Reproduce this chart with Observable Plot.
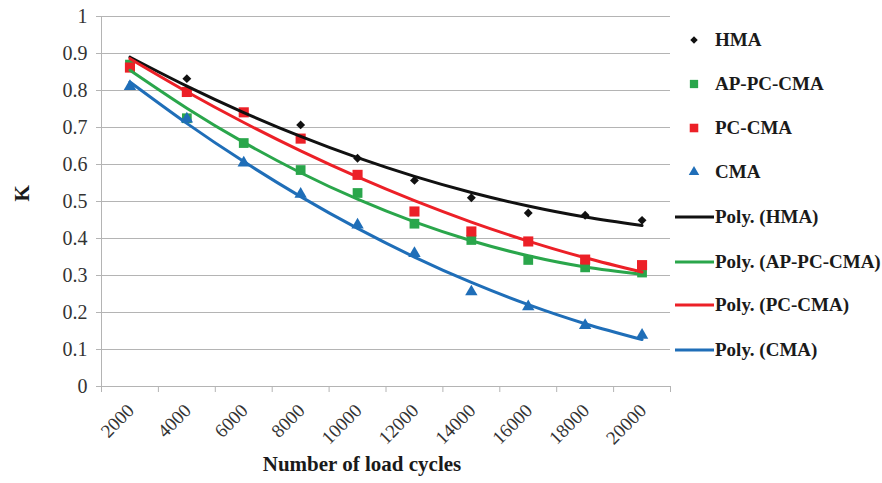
<!DOCTYPE html>
<html><head><meta charset="utf-8">
<script src="https://cdn.jsdelivr.net/npm/d3@7"></script>
<script src="https://cdn.jsdelivr.net/npm/@observablehq/plot@0.6"></script>
<style>
body{margin:0;background:#fff;font-family:"Liberation Serif",serif;}
#wrap{position:relative;width:882px;height:483px;overflow:hidden;}
.row{position:absolute;left:672px;height:22px;display:flex;align-items:center;font-weight:bold;font-size:19px;color:#1a1a1a;white-space:nowrap;}
.row svg{flex:none;}
</style></head><body><div id="wrap"></div>
<script>
const cycles = [2000, 4000, 6000, 8000, 10000, 12000, 14000, 16000, 18000, 20000];
const hma      = [0.865, 0.832, 0.741, 0.707, 0.617, 0.557, 0.510, 0.469, 0.463, 0.449];
const apPcCma  = [0.870, 0.725, 0.658, 0.585, 0.523, 0.440, 0.396, 0.342, 0.322, 0.308];
const pcCma    = [0.862, 0.796, 0.741, 0.670, 0.572, 0.473, 0.419, 0.392, 0.343, 0.328];
const cma      = [0.811, 0.723, 0.604, 0.520, 0.437, 0.360, 0.256, 0.216, 0.165, 0.139];
const seriesNames = ["HMA", "AP-PC-CMA", "PC-CMA", "CMA"];
const trendNames = ["Poly. (HMA)", "Poly. (AP-PC-CMA)", "Poly. (PC-CMA)", "Poly. (CMA)"];
const yTicks = [0, 0.1, 0.2, 0.3, 0.4, 0.5, 0.6, 0.7, 0.8, 0.9, 1];
const yTickLabels = ["0", "0.1", "0.2", "0.3", "0.4", "0.5", "0.6", "0.7", "0.8", "0.9", "1"];
const xTitle = "Number of load cycles";
const yTitle = "K";

const colors = ["#111111", "#2aa64b", "#ec2027", "#1f6eb8"];
const symbols = ["diamond2", "square", "square", "triangle"];
const sizes = [4.0, 5.5, 5.7, 4.6];
const values = [hma, apPcCma, pcCma, cma];

// quadratic least-squares fit (Excel "Poly." order-2 trendline)
function quadFit(xs, ys) {
  const n = xs.length;
  let s = [0,0,0,0,0], t = [0,0,0];
  for (let i = 0; i < n; i++) {
    const x = xs[i] / 1000, y = ys[i];
    for (let k = 0; k < 5; k++) s[k] += Math.pow(x, k);
    for (let k = 0; k < 3; k++) t[k] += y * Math.pow(x, k);
  }
  const A = [[s[0], s[1], s[2], t[0]], [s[1], s[2], s[3], t[1]], [s[2], s[3], s[4], t[2]]];
  for (let i = 0; i < 3; i++) {
    for (let j = i + 1; j < 3; j++) {
      const f = A[j][i] / A[i][i];
      for (let k = i; k < 4; k++) A[j][k] -= f * A[i][k];
    }
  }
  const c = [0,0,0];
  for (let i = 2; i >= 0; i--) {
    let v = A[i][3];
    for (let k = i + 1; k < 3; k++) v -= A[i][k] * c[k];
    c[i] = v / A[i][i];
  }
  return x => c[0] + c[1] * (x / 1000) + c[2] * (x / 1000) ** 2;
}

const points = [], trends = [];
values.forEach((vals, si) => {
  const f = quadFit(cycles, vals);
  cycles.forEach((c, i) => {
    points.push({series: seriesNames[si], si, x: c, y: vals[i]});
    trends.push({series: trendNames[si], si, x: c, y: f(c)});
  });
});

const step = cycles[1] - cycles[0];
const boundaries = [cycles[0] - step / 2, ...cycles.map(c => c + step / 2)];

const marks = [
  Plot.gridY(yTicks, {stroke: "#b4b4b4", strokeOpacity: 1, strokeWidth: 1}),
  Plot.ruleX([boundaries[0]], {stroke: "#b4b4b4"}),
  Plot.axisX(boundaries, {label: null, tickSize: 6, stroke: "#b4b4b4", tickFormat: () => ""}),
  Plot.tickY(yTicks, {y: d => d, stroke: "#b4b4b4", insetLeft: -5, insetRight: 0}),
  Plot.text(yTicks, {y: d => d, text: (d, i) => yTickLabels[i], frameAnchor: "left", dx: -14, textAnchor: "end", fontSize: 20, fill: "#333"}),
  Plot.text(cycles, {x: d => d, text: d => String(d), frameAnchor: "bottom", dx: 1, dy: 21, rotate: -45, textAnchor: "end", lineAnchor: "middle", fontSize: 19, fill: "#333"}),
];
values.forEach((vals, si) => {
  marks.push(Plot.dot(points.filter(d => d.si === si), {x: "x", y: "y", symbol: () => symbols[si], r: sizes[si], fill: colors[si], stroke: "none"}));
});
values.forEach((vals, si) => {
  marks.push(Plot.line(trends.filter(d => d.si === si), {x: "x", y: "y", stroke: colors[si], strokeWidth: 3, curve: "natural"}));
});
marks.push(Plot.text([yTitle], {frameAnchor: "left", dx: -79, rotate: -90, fontWeight: "bold", fontSize: 21, fill: "#1a1a1a"}));
marks.push(Plot.text([xTitle], {frameAnchor: "bottom", dx: -24, dy: 84, fontWeight: "bold", fontSize: 21, fill: "#1a1a1a"}));

const chart = Plot.plot({
  width: 882, height: 483,
  marginLeft: 101, marginRight: 212, marginTop: 16, marginBottom: 97,
  style: {fontFamily: "Liberation Serif, serif", fontSize: "18px", background: "white", overflow: "visible"},
  x: {type: "linear", domain: [boundaries[0], boundaries[boundaries.length - 1]], axis: null},
  y: {domain: [0, 1], axis: null},
  symbol: {type: "identity"},
  marks
});
const wrap = document.getElementById("wrap");
wrap.appendChild(chart);

// legend
const rowY = [40, 84, 128, 172, 217, 262, 305, 350];
const d3sym = {diamond2: d3.symbolDiamond2, square: d3.symbolSquare, triangle: d3.symbolTriangle};
seriesNames.forEach((name, i) => {
  const row = document.createElement("div");
  row.className = "row";
  row.style.top = (rowY[i] - 11) + "px";
  const size = Math.PI * sizes[i] * sizes[i] * 0.72;
  const path = d3.symbol(d3sym[symbols[i]], size)();
  row.innerHTML = `<svg width="43" height="22"><path transform="translate(22,11)" d="${path}" fill="${colors[i]}"/></svg><span>${name}</span>`;
  wrap.appendChild(row);
});
trendNames.forEach((name, i) => {
  const row = document.createElement("div");
  row.className = "row";
  row.style.top = (rowY[i + 4] - 11) + "px";
  row.style.left = "675px";
  row.innerHTML = `<svg width="40" height="22"><line x1="0" x2="39" y1="11" y2="11" stroke="${colors[i]}" stroke-width="3"/></svg><span>${name}</span>`;
  wrap.appendChild(row);
});
</script>
</body></html>
